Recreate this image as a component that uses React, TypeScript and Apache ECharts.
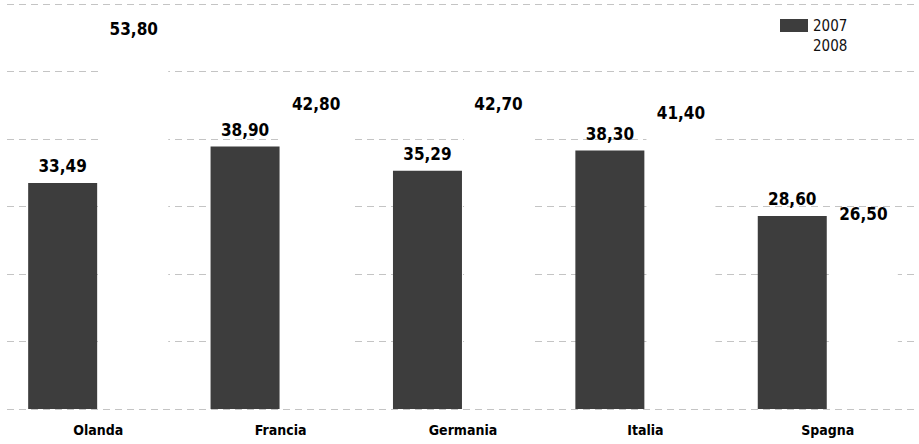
import React, { useEffect, useRef } from "react";
import * as echarts from "echarts";

const categories = ["Olanda", "Francia", "Germania", "Italia", "Spagna"];
const values2007 = [33.49, 38.9, 35.29, 38.3, 28.6];
const values2008 = [53.8, 42.8, 42.7, 41.4, 26.5];
const seriesNames = ["2007", "2008"];

const fmt = (v: number) => v.toFixed(2).replace(".", ",");

export default function App() {
  const ref = useRef<HTMLDivElement>(null);
  useEffect(() => {
    if (!ref.current) return;
    const chart = echarts.init(ref.current, undefined, { renderer: "svg" });
    const valueLabel = {
      show: true,
      position: "top" as const,
      distance: 8,
      color: "#000",
      fontFamily: "DejaVu Sans Condensed",
      fontWeight: "bold" as const,
      fontSize: 17,
      formatter: (p: any) => fmt(p.value),
    };
    chart.setOption({
      animation: false,
      backgroundColor: "#fff",
      legend: {
        orient: "vertical",
        left: 780,
        top: 18,
        padding: 0,
        itemWidth: 28,
        itemHeight: 13,
        itemGap: 5,
        icon: "rect",
        textStyle: {
          fontFamily: "DejaVu Sans Condensed",
          fontSize: 15,
          color: "#111",
        },
        data: seriesNames,
      },
      grid: { left: 7, right: -10, top: 4, bottom: 35 },
      xAxis: {
        type: "category",
        data: categories,
        axisLine: { show: false },
        axisTick: { show: false },
        axisLabel: {
          margin: 14,
          color: "#000",
          fontFamily: "DejaVu Sans Condensed",
          fontWeight: "bold",
          fontSize: 14,
        },
      },
      yAxis: {
        type: "value",
        min: 0,
        max: 60,
        interval: 10,
        axisLabel: { show: false },
        axisLine: { show: false },
        axisTick: { show: false },
        splitLine: {
          show: true,
          lineStyle: { color: "#c4c4c4", width: 1, type: [7, 5] },
        },
      },
      series: [
        {
          name: seriesNames[0],
          type: "bar",
          data: values2007,
          barWidth: 69,
          barGap: "3%",
          itemStyle: { color: "#3d3d3d" },
          label: valueLabel,
        },
        {
          name: seriesNames[1],
          type: "bar",
          data: values2008,
          barWidth: 69,
          itemStyle: { color: "#ffffff" },
          label: valueLabel,
        },
      ],
    });
    return () => chart.dispose();
  }, []);
  return (
    <div
      ref={ref}
      style={{ position: "absolute", left: 0, top: 0, width: 919, height: 444 }}
    />
  );
}
